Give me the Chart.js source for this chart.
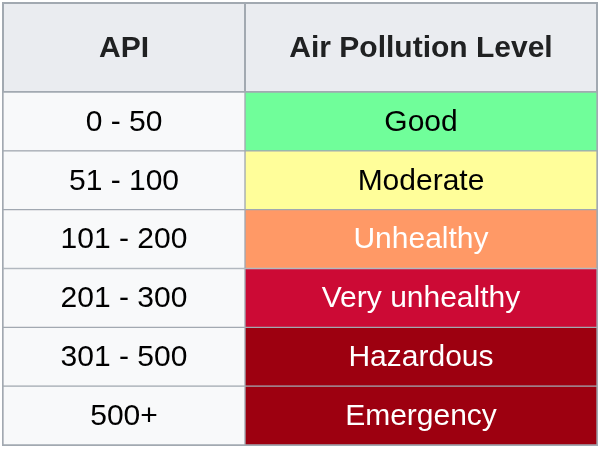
<!DOCTYPE html>
<html>
<head>
<meta charset="utf-8">
<script src="https://cdn.jsdelivr.net/npm/chart.js@4"></script>
<style>
  html, body { margin: 0; padding: 0; background: #fff; }
  canvas { display: block; }
</style>
</head>
<body>
<canvas id="chart" width="600" height="450"></canvas>
<script>
// table contents
const columnHeaders = ['API', 'Air Pollution Level'];
const apiRanges = ['0 - 50', '51 - 100', '101 - 200', '201 - 300', '301 - 500', '500+'];
const levels = ['Good', 'Moderate', 'Unhealthy', 'Very unhealthy', 'Hazardous', 'Emergency'];
const levelColors = ['#70fe9a', '#fffe9a', '#ff9966', '#cc0a35', '#9d0010', '#9d0010'];
const levelTextColors = ['#000000', '#000000', '#ffffff', '#ffffff', '#ffffff', '#ffffff'];

const SPLIT = 0.4074;      // share of width taken by the API column
const HEADER_H = 89;
const BORDER = '#a2a9b1';
const FONT = "'Liberation Sans', Arial, Helvetica, sans-serif";

// header row + outer frame
const headerPlugin = {
  id: 'header',
  afterDraw(chart) {
    const { ctx, chartArea, scales } = chart;
    const top = chartArea.top - HEADER_H;
    const edges = [scales.x.getPixelForValue(0), scales.x.getPixelForValue(SPLIT), scales.x.getPixelForValue(1)];
    ctx.save();
    for (let i = 0; i < columnHeaders.length; i++) {
      const x0 = edges[i], x1 = edges[i + 1];
      ctx.fillStyle = BORDER;
      ctx.fillRect(x0, top, x1 - x0, HEADER_H);
      ctx.fillStyle = '#eaecf0';
      ctx.fillRect(x0 + 1, top + 1, x1 - x0 - 2, HEADER_H - 2);
      ctx.fillStyle = '#202122';
      ctx.font = 'bold 30px ' + FONT;
      ctx.textAlign = 'center';
      ctx.textBaseline = 'middle';
      ctx.fillText(columnHeaders[i], (x0 + x1) / 2, top + HEADER_H / 2 + 1);
    }
    ctx.strokeStyle = BORDER;
    ctx.lineWidth = 1;
    ctx.strokeRect(chartArea.left - 0.5, top - 0.5, chartArea.right - chartArea.left + 1, chartArea.bottom - top + 1);
    ctx.restore();
  }
};

// cell text
const cellTextPlugin = {
  id: 'cellText',
  afterDatasetsDraw(chart) {
    const { ctx } = chart;
    ctx.save();
    ctx.font = '30px ' + FONT;
    ctx.textAlign = 'center';
    ctx.textBaseline = 'middle';
    chart.data.datasets.forEach((ds, di) => {
      chart.getDatasetMeta(di).data.forEach((bar, i) => {
        const c = bar.getCenterPoint();
        ctx.fillStyle = ds.textColors[i];
        ctx.fillText(ds.texts[i], c.x, c.y + 1);
      });
    });
    ctx.restore();
  }
};

new Chart(document.getElementById('chart'), {
  type: 'bar',
  data: {
    labels: apiRanges,
    datasets: [
      {
        label: columnHeaders[0],
        data: apiRanges.map(() => [0, SPLIT]),
        backgroundColor: '#f8f9fa',
        texts: apiRanges,
        textColors: apiRanges.map(() => '#000000')
      },
      {
        label: columnHeaders[1],
        data: levels.map(() => [SPLIT, 1]),
        backgroundColor: levelColors,
        texts: levels,
        textColors: levelTextColors
      }
    ]
  },
  options: {
    indexAxis: 'y',
    responsive: false,
    animation: false,
    grouped: false,
    categoryPercentage: 1,
    barPercentage: 1,
    borderWidth: 1,
    borderColor: BORDER,
    borderSkipped: false,
    layout: { padding: { top: HEADER_H + 3, left: 3, right: 3, bottom: 5 } },
    scales: {
      x: { type: 'linear', min: 0, max: 1, display: false },
      y: { type: 'category', display: false }
    },
    plugins: {
      legend: { display: false },
      tooltip: { enabled: false }
    }
  },
  plugins: [cellTextPlugin, headerPlugin]
});
</script>
</body>
</html>
